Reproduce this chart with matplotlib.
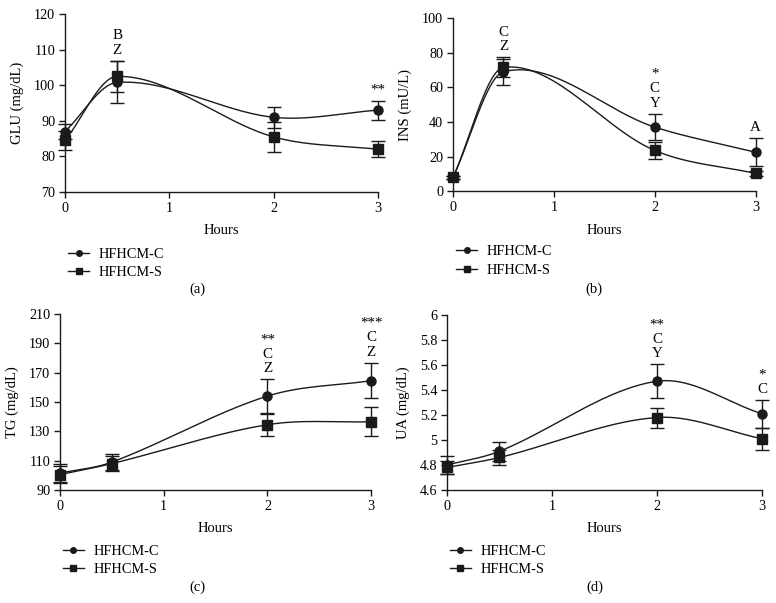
import numpy as np
import matplotlib
matplotlib.use("Agg")
import matplotlib.pyplot as plt

plt.rcParams['font.family'] = ['Liberation Serif', 'DejaVu Serif']
plt.rcParams['font.size'] = 10.5

hours = [0, 0.5, 2, 3]

glu_c = [87, 100.8, 91, 93]
glu_c_err = [2.0, 5.9, 3.0, 2.7]
glu_s = [84.5, 102.5, 85.5, 82]
glu_s_err = [2.6, 4.3, 4.3, 2.2]

ins_c = [8, 69, 37, 22.5]
ins_c_err = [1.0, 7.5, 7.5, 8.0]
ins_s = [8, 71.5, 23.5, 10.2]
ins_s_err = [1.0, 5.8, 5.0, 1.6]

tg_c = [101.5, 109, 154, 164.5]
tg_c_err = [6.0, 5.5, 11.5, 12.0]
tg_s = [100.5, 108, 134.5, 136.5]
tg_s_err = [6.0, 5.0, 7.5, 9.8]

ua_c = [4.80, 4.91, 5.47, 5.21]
ua_c_err = [0.07, 0.075, 0.135, 0.11]
ua_s = [4.78, 4.86, 5.18, 5.01]
ua_s_err = [0.05, 0.06, 0.08, 0.09]

series_names = ["HFHCM-C", "HFHCM-S"]


def smooth_curve(x, y, n=60):
    """Cubic Hermite curve through the points with finite-difference tangents."""
    x = np.asarray(x, float)
    y = np.asarray(y, float)
    k = len(x)
    m = np.zeros(k)
    m[0] = (y[1] - y[0]) / (x[1] - x[0])
    m[-1] = (y[-1] - y[-2]) / (x[-1] - x[-2])
    for i in range(1, k - 1):
        m[i] = (y[i + 1] - y[i - 1]) / (x[i + 1] - x[i - 1])
    xs_all, ys_all = [], []
    for i in range(k - 1):
        h = x[i + 1] - x[i]
        t = np.linspace(0, 1, n)
        h00 = 2 * t**3 - 3 * t**2 + 1
        h10 = t**3 - 2 * t**2 + t
        h01 = -2 * t**3 + 3 * t**2
        h11 = t**3 - t**2
        yy = h00 * y[i] + h10 * h * m[i] + h01 * y[i + 1] + h11 * h * m[i + 1]
        xs_all.append(x[i] + t * h)
        ys_all.append(yy)
    return np.concatenate(xs_all), np.concatenate(ys_all)


panels = [
    dict(pos=[0.0838, 0.6816, 0.403, 0.295], c=glu_c, ce=glu_c_err, s=glu_s, se=glu_s_err,
         ylim=(70, 120), yticks=[70, 80, 90, 100, 110, 120], yfmt=None,
         ylabel="GLU (mg/dL)", label="(a)", labx=0.255,
         ann={0.5: "B\nZ", 3: "**"}),
    dict(pos=[0.5838, 0.683, 0.390, 0.287], c=ins_c, ce=ins_c_err, s=ins_s, se=ins_s_err,
         ylim=(0, 100), yticks=[0, 20, 40, 60, 80, 100], yfmt=None,
         ylabel="INS (mU/L)", label="(b)", labx=0.766,
         ann={0.5: "C\nZ", 2: "*\nC\nY", 3: "A"}),
    dict(pos=[0.0773, 0.1874, 0.401, 0.292], c=tg_c, ce=tg_c_err, s=tg_s, se=tg_s_err,
         ylim=(90, 210), yticks=[90, 110, 130, 150, 170, 190, 210], yfmt=None,
         ylabel="TG (mg/dL)", label="(c)", labx=0.255,
         ann={2: "**\nC\nZ", 3: "***\nC\nZ"}),
    dict(pos=[0.576, 0.1874, 0.406, 0.2902], c=ua_c, ce=ua_c_err, s=ua_s, se=ua_s_err,
         ylim=(4.6, 6.0), yticks=[4.6, 4.8, 5.0, 5.2, 5.4, 5.6, 5.8, 6.0],
         yfmt=["4.6", "4.8", "5", "5.2", "5.4", "5.6", "5.8", "6"],
         ylabel="UA (mg/dL)", label="(d)", labx=0.766,
         ann={2: "**\nC\nY", 3: "*\nC"}),
]

fig = plt.figure(figsize=(7.76, 6.03), dpi=100)
col = '#1a1a1a'

for p in panels:
    ax = fig.add_axes(p['pos'])
    handles = []
    for vals, errs, mk, ms, lms, nm in [(p['c'], p['ce'], 'o', 6.5, 4.0, series_names[0]),
                                        (p['s'], p['se'], 's', 7, 4.0, series_names[1])]:
        xs, ys = smooth_curve(hours, vals)
        ax.plot(xs, ys, color=col, lw=1.0, clip_on=False)
        ax.errorbar(hours, vals, yerr=errs, fmt='none', ecolor=col, elinewidth=1.0,
                    capsize=5, capthick=1.0, clip_on=False)
        ax.plot(hours, vals, linestyle='none', marker=mk, ms=ms, color=col, clip_on=False)
        h, = ax.plot([], [], color=col, lw=1.0, marker=mk, ms=lms, label=nm)
        handles.append(h)
    ax.set_xlim(0, 3)
    ax.set_ylim(*p['ylim'])
    ax.set_xticks([0, 1, 2, 3])
    ax.set_yticks(p['yticks'])
    if p['yfmt']:
        ax.set_yticklabels(p['yfmt'])
    ax.spines['top'].set_visible(False)
    ax.spines['right'].set_visible(False)
    for sp in ['left', 'bottom']:
        ax.spines[sp].set_color(col)
        ax.spines[sp].set_linewidth(1.0)
    ax.tick_params(direction='out', length=4, width=1.0, color=col, labelsize=10.2, pad=3)
    ax.set_xlabel("Hours", fontsize=10.5, labelpad=7)
    ax.set_ylabel(p['ylabel'], fontsize=10.5, labelpad=7)
    for xv, txt in p['ann'].items():
        i = hours.index(xv)
        top = max(p['c'][i] + p['ce'][i], p['s'][i] + p['se'][i])
        ax.annotate(txt, (xv, top), xytext=(0, 3), textcoords='offset points',
                    ha='center', va='bottom', fontsize=10.8, linespacing=1.15,
                    annotation_clip=False)
    ax.legend(handles=handles, loc='upper left', bbox_to_anchor=(-0.01, -0.28),
              frameon=False, fontsize=10.4, handlelength=1.5, handletextpad=0.65,
              labelspacing=0.35, borderaxespad=0)
    fig.text(p['labx'], p['pos'][1] - 0.162, p['label'], ha='center', va='center', fontsize=10.5)

fig.savefig("out.png", dpi=100)
